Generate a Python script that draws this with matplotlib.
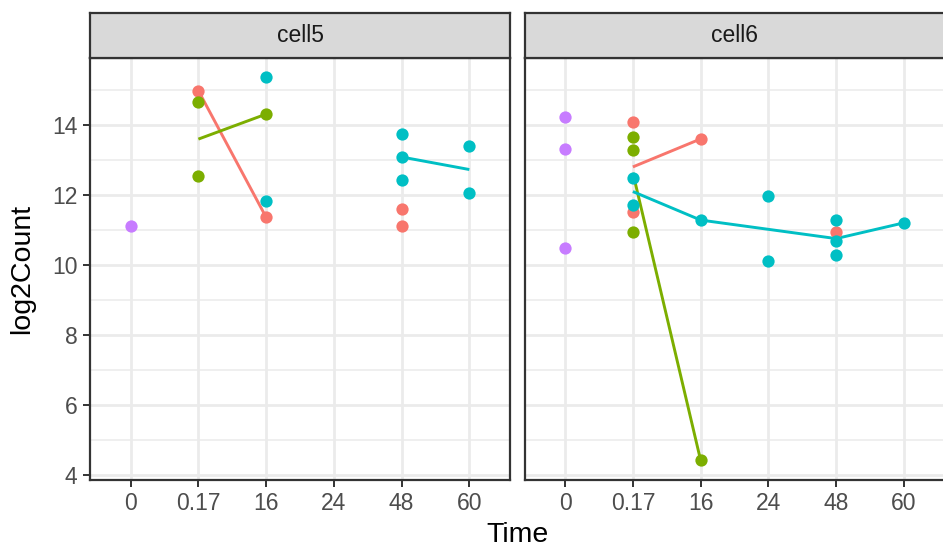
import matplotlib
matplotlib.use("Agg")
import matplotlib.pyplot as plt
import numpy as np
import pandas as pd

plt.rcParams["font.family"] = ["Liberation Sans", "DejaVu Sans"]

TIMES = ["0", "0.17", "16", "24", "48", "60"]
PANELS = ["cell5", "cell6"]
GROUP_COLORS = {"A": "#F8766D", "B": "#7CAE00", "C": "#00BFC4", "D": "#C77CFF"}

# points
cell5_time = ["0", "0.17", "0.17", "0.17", "16", "16", "16", "16",
              "48", "48", "48", "48", "48", "60", "60"]
cell5_group = ["D", "A", "B", "B", "C", "B", "C", "A",
               "C", "C", "C", "A", "A", "C", "C"]
cell5_value = [11.13, 14.99, 14.66, 12.55, 15.39, 14.32, 11.84, 11.37,
               13.76, 13.08, 12.44, 11.62, 11.13, 13.40, 12.07]

cell6_time = ["0", "0", "0", "0.17", "0.17", "0.17", "0.17", "0.17", "0.17", "0.17",
              "16", "16", "16", "24", "24", "48", "48", "48", "48", "60"]
cell6_group = ["D", "D", "D", "A", "B", "B", "C", "C", "A", "B",
               "A", "C", "B", "C", "C", "C", "A", "C", "C", "C"]
cell6_value = [14.23, 13.31, 10.49, 14.09, 13.67, 13.29, 12.49, 11.72, 11.53, 10.96,
               13.61, 11.29, 4.42, 11.99, 10.11, 11.29, 10.94, 10.70, 10.29, 11.21]

# mean lines: which times each group's line runs through
cell5_lines = {"A": ["0.17", "16"], "B": ["0.17", "16"], "C": ["48", "60"]}
cell6_lines = {"A": ["0.17", "16"], "B": ["0.17", "16"], "C": ["0.17", "16", "48", "60"]}

points = {
    "cell5": pd.DataFrame({"time": cell5_time, "group": cell5_group, "value": cell5_value}),
    "cell6": pd.DataFrame({"time": cell6_time, "group": cell6_group, "value": cell6_value}),
}
lines = {"cell5": cell5_lines, "cell6": cell6_lines}

W, H = 943, 549
fig = plt.figure(figsize=(W / 100, H / 100), dpi=100)

panel_px = [(90, 510), (524.5, 944.5)]
top_px, bottom_px, strip_top_px = 57.5, 479.5, 12.5

all_vals = np.array(cell5_value + cell6_value)
pad = 0.05 * (all_vals.max() - all_vals.min())
ylim = (all_vals.min() - pad, all_vals.max() + pad)

grid_col = "#EBEBEB"
dark = "#333333"

for k, name in enumerate(PANELS):
    x0, x1 = panel_px[k]
    ax = fig.add_axes([x0 / W, 1 - bottom_px / H, (x1 - x0) / W, (bottom_px - top_px) / H])
    df = points[name]
    xpos = {t: i for i, t in enumerate(TIMES)}

    for grp, tlist in lines[name].items():
        sub = df[df["group"].eq(grp) & df["time"].isin(tlist)]
        means = sub.groupby("time")["value"].mean().reindex(tlist)
        ax.plot([xpos[t] for t in tlist], means.values, color=GROUP_COLORS[grp],
                lw=2.1, zorder=3, solid_capstyle="butt")

    for grp in ["A", "B", "C", "D"]:
        sub = df[df["group"].eq(grp)]
        ax.scatter(sub["time"].map(xpos), sub["value"], s=78, color=GROUP_COLORS[grp],
                   linewidths=0, zorder=4)

    ax.set_xlim(-0.6, len(TIMES) - 0.4)
    ax.set_ylim(*ylim)
    ax.set_xticks(range(len(TIMES)), TIMES)
    ax.set_yticks(np.arange(4, 15, 2))
    ax.set_yticks(np.arange(5, 16, 2), minor=True)
    ax.grid(True, which="major", color=grid_col, lw=2.0, zorder=0)
    ax.grid(True, which="minor", axis="y", color=grid_col, lw=1.1, zorder=0)
    ax.set_axisbelow(True)
    ax.tick_params(axis="both", which="major", length=5, width=1.4, color=dark,
                   labelsize=16.5, labelcolor="#4D4D4D", pad=4)
    ax.tick_params(axis="y", which="minor", length=0)
    if k == 1:
        ax.tick_params(axis="y", which="both", left=False, labelleft=False)
    for sp in ax.spines.values():
        sp.set_color(dark)
        sp.set_linewidth(1.6)

    sax = fig.add_axes([x0 / W, 1 - top_px / H, (x1 - x0) / W, (top_px - strip_top_px) / H])
    sax.set_facecolor("#D9D9D9")
    sax.set_xticks([])
    sax.set_yticks([])
    for sp in sax.spines.values():
        sp.set_color(dark)
        sp.set_linewidth(1.6)
    sax.text(0.5, 0.5, name, ha="center", va="center", fontsize=16.5, color="#1A1A1A",
             transform=sax.transAxes)

fig.text((90 + 944.5) / 2 / W, 1 - 535 / H, "Time", ha="center", va="center", fontsize=20.5)
fig.text(22 / W, 1 - (top_px + bottom_px) / 2 / H, "log2Count", ha="center", va="center",
         rotation=90, fontsize=20.5)

fig.savefig("out.png", dpi=100)
